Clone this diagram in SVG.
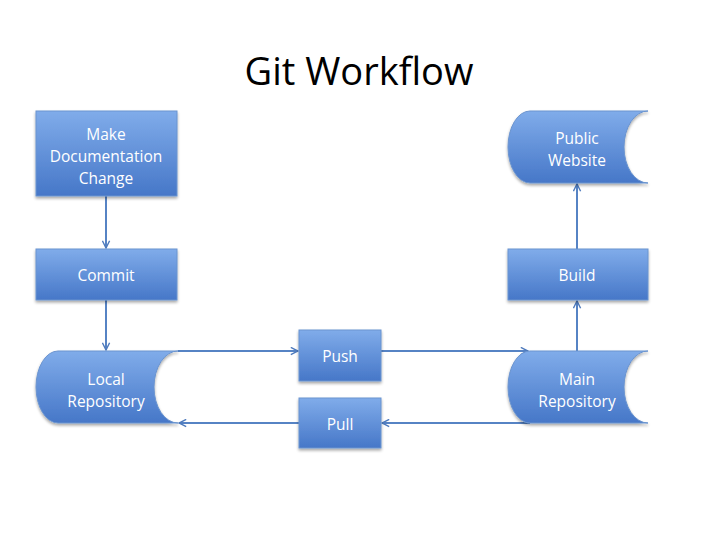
<svg xmlns="http://www.w3.org/2000/svg" width="720" height="540" viewBox="0 0 720 540">
<defs>
<linearGradient id="g" x1="0" y1="0" x2="0" y2="1">
<stop offset="0" stop-color="#80acea"/>
<stop offset="1" stop-color="#4677c8"/>
</linearGradient>
<filter id="sh" x="-10%" y="-10%" width="130%" height="130%">
<feGaussianBlur in="SourceAlpha" stdDeviation="1.5"/>
<feOffset dx="0" dy="2" result="b"/>
<feComponentTransfer><feFuncA type="linear" slope="0.35"/></feComponentTransfer>
<feMerge><feMergeNode/><feMergeNode in="SourceGraphic"/></feMerge>
</filter>
<marker id="arr" viewBox="0 0 10 10" refX="9" refY="5" markerWidth="9" markerHeight="9" orient="auto" markerUnits="userSpaceOnUse">
<path d="M1,1 L9,5 L1,9" fill="none" stroke="#4f7bbd" stroke-width="1.6"/>
</marker>
<style>
.n{fill:url(#g);stroke:#6b94cf;stroke-width:1;filter:url(#sh)}
.t{font-family:"Open Sans","Liberation Sans",sans-serif;font-size:15.5px;fill:#ffffff;text-anchor:middle}
.c{fill:none;stroke:#5683c4;stroke-width:2;marker-end:url(#arr)}
</style>
</defs>
<rect width="720" height="540" fill="#ffffff"/>
<text x="359" y="85" font-family="'Open Sans','Liberation Sans',sans-serif" font-size="38" text-anchor="middle" fill="#000">Git Workflow</text>
<g id="connectors">
<path class="c" d="M106,196 L106,248"/>
<path class="c" d="M106,300 L106,350"/>
<path class="c" d="M178,351 L298,351"/>
<path class="c" d="M381,351 L528,351"/>
<path class="c" d="M530,423 L382,423"/>
<path class="c" d="M299,423 L179,423"/>
<path class="c" d="M577,351 L577,301"/>
<path class="c" d="M577,249 L577,184"/>
</g>
<g id="make">
<rect class="n" x="36" y="111" width="141" height="85"/>
<text class="t" x="106" y="140">Make</text>
<text class="t" x="106" y="162">Documentation</text>
<text class="t" x="106" y="184">Change</text>
</g>
<g id="commit">
<rect class="n" x="36" y="249" width="141" height="51"/>
<text class="t" x="106" y="281">Commit</text>
</g>
<g id="local">
<path class="n" d="M58,351 L178,351 A24,36 0 0 0 178,423 L58,423 A22,36 0 0 1 58,351 Z"/>
<text class="t" x="106" y="385">Local</text>
<text class="t" x="106" y="407">Repository</text>
</g>
<g id="push">
<rect class="n" x="299" y="330" width="82" height="51"/>
<text class="t" x="340" y="362">Push</text>
</g>
<g id="pull">
<rect class="n" x="299" y="398" width="82" height="50"/>
<text class="t" x="340" y="430">Pull</text>
</g>
<g id="main">
<path class="n" d="M530,351 L648,351 A24,36 0 0 0 648,423 L530,423 A22,36 0 0 1 530,351 Z"/>
<text class="t" x="577" y="385">Main</text>
<text class="t" x="577" y="407">Repository</text>
</g>
<g id="build">
<rect class="n" x="508" y="249" width="140" height="51"/>
<text class="t" x="577" y="281">Build</text>
</g>
<g id="public">
<path class="n" d="M530,111 L648,111 A24,36 0 0 0 648,183 L530,183 A22,36 0 0 1 530,111 Z"/>
<text class="t" x="577" y="144">Public</text>
<text class="t" x="577" y="166">Website</text>
</g>
</svg>
